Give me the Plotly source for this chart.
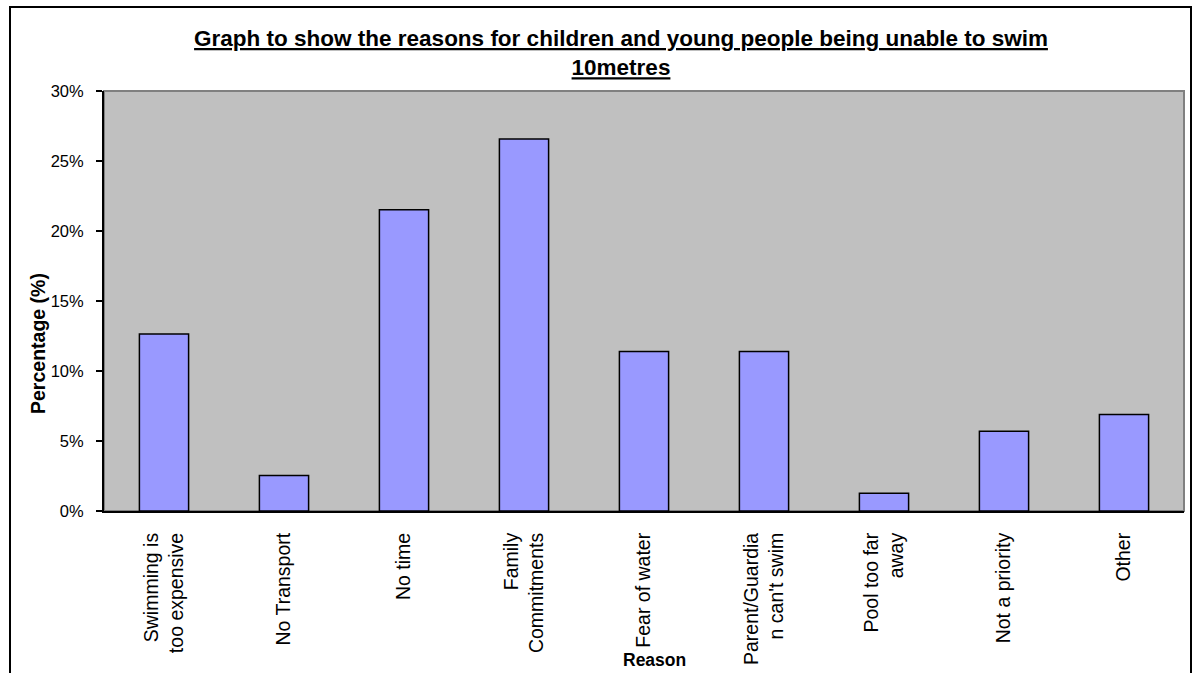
import plotly.graph_objects as go

categories = [
    "Swimming is<br>too expensive",
    "No Transport",
    "No time",
    "Family<br>Commitments",
    "Fear of water",
    "Parent/Guardia<br>n can't swim",
    "Pool too far<br>away",
    "Not a priority",
    "Other",
]
values = [0.1265, 0.0253, 0.2152, 0.2658, 0.1139, 0.1139, 0.0127, 0.0570, 0.0690]
y_ticks = [0, 0.05, 0.10, 0.15, 0.20, 0.25, 0.30]

title_lines = ["Graph to show the reasons for children and young people being unable to swim", "10metres"]

W, H = 1194, 673
L, R, T, B = 104, 10, 91, 162
PW = W - L - R
PH = H - T - B

def px_x(p):
    return (p - L) / PW

def px_y(p):
    return (H - B - p) / PH

FONT = "Liberation Sans, Arial, sans-serif"

title_html = "<br>".join("<b><u>" + t + "</u></b>" for t in title_lines)

fig = go.Figure()
fig.add_trace(go.Bar(
    x=categories,
    y=values,
    marker=dict(color="#9999FF", line=dict(color="#000000", width=1.5)),
    width=0.41,
    hoverinfo="x+y",
))

fig.update_layout(
    width=W,
    height=H,
    margin=dict(l=L, r=R, t=T, b=B, autoexpand=False),
    paper_bgcolor="white",
    plot_bgcolor="#C0C0C0",
    showlegend=False,
    font=dict(family=FONT, color="#000000", size=16),
    title=dict(
        text=title_html,
        x=621 / W,
        xref="container",
        xanchor="center",
        y=1 - 46 / H,
        yref="container",
        yanchor="top",
        font=dict(family=FONT, size=22.5, color="#000000"),
    ),
    xaxis=dict(
        type="category",
        showline=True,
        linecolor="#000000",
        linewidth=2,
        ticks="",
        tickangle=-90,
        ticklabelstandoff=12,
        tickfont=dict(family=FONT, size=19.5),
        showgrid=False,
        zeroline=False,
        automargin=False,
    ),
    yaxis=dict(
        range=[0, 0.30],
        tickvals=y_ticks,
        tickformat=".0%",
        showline=True,
        linecolor="#000000",
        linewidth=2,
        ticks="outside",
        ticklen=6,
        tickwidth=2,
        tickcolor="#000000",
        tickfont=dict(family=FONT, size=16.5),
        ticklabelstandoff=9,
        showgrid=False,
        zeroline=False,
        automargin=False,
    ),
    shapes=[
        dict(type="rect", xref="paper", yref="paper", x0=0, x1=1, y0=0, y1=1,
             line=dict(color="#808080", width=2), layer="below"),
        dict(type="rect", xref="paper", yref="paper",
             x0=px_x(10), x1=px_x(1191), y0=px_y(690), y1=px_y(7),
             line=dict(color="#000000", width=2), layer="above"),
    ],
    annotations=[
        dict(text="<b>Reason</b>", xref="paper", yref="paper",
             x=px_x(654), y=px_y(660), xanchor="center", yanchor="middle",
             showarrow=False, font=dict(family=FONT, size=17.5, color="#000000")),
        dict(text="<b>Percentage (%)</b>", xref="paper", yref="paper",
             x=px_x(38), y=px_y(344), xanchor="center", yanchor="middle",
             textangle=-90, showarrow=False,
             font=dict(family=FONT, size=19.5, color="#000000")),
    ],
)

fig.write_html("out.html")
